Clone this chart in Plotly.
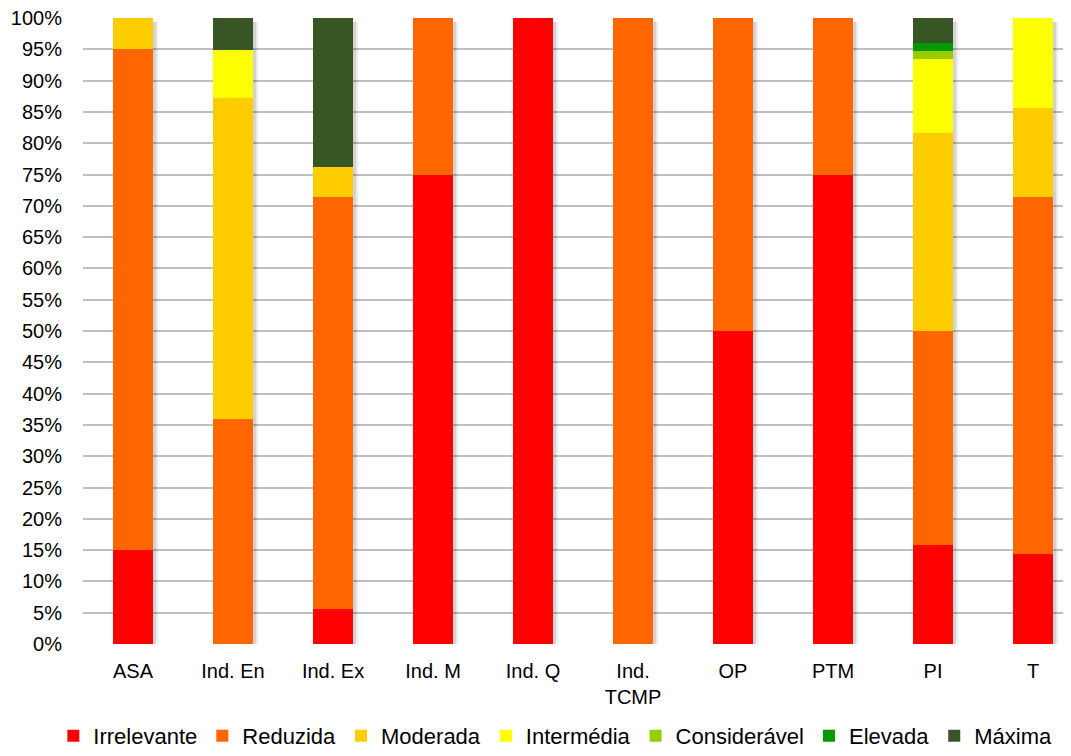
import plotly.graph_objects as go

categories = ["ASA", "Ind. En", "Ind. Ex", "Ind. M", "Ind. Q", "Ind.<br>TCMP", "OP", "PTM", "PI", "T"]
series_names = ["Irrelevante", "Reduzida", "Moderada", "Intermédia", "Considerável", "Elevada", "Máxima"]
irrelevante = [0.15, 0.0, 0.056, 0.75, 1.0, 0.0, 0.5, 0.75, 0.158, 0.143]
reduzida = [0.80, 0.359, 0.658, 0.25, 0.0, 1.0, 0.5, 0.25, 0.342, 0.571]
moderada = [0.05, 0.513, 0.048, 0.0, 0.0, 0.0, 0.0, 0.0, 0.316, 0.143]
intermedia = [0.0, 0.077, 0.0, 0.0, 0.0, 0.0, 0.0, 0.0, 0.118, 0.143]
consideravel = [0.0, 0.0, 0.0, 0.0, 0.0, 0.0, 0.0, 0.0, 0.013, 0.0]
elevada = [0.0, 0.0, 0.0, 0.0, 0.0, 0.0, 0.0, 0.0, 0.013, 0.0]
maxima = [0.0, 0.051, 0.238, 0.0, 0.0, 0.0, 0.0, 0.0, 0.040, 0.0]
colors = ["#FF0000", "#FF6600", "#FFCC00", "#FFFF00", "#99CC00", "#009900", "#375623"]
y_ticks = [i / 20 for i in range(21)]
y_tick_labels = [f"{i*5}%" for i in range(21)]

all_series = [irrelevante, reduzida, moderada, intermedia, consideravel, elevada, maxima]
totals = [sum(v) for v in zip(*all_series)]

fig = go.Figure()
# soft drop shadow behind each column
for off, alpha in [(-0.17, 0.10), (-0.155, 0.08)]:
    fig.add_trace(go.Bar(x=categories, y=totals, base=-0.006, width=0.4, offset=off,
                         marker=dict(color=f"rgba(0,0,0,{alpha})", line=dict(width=0)),
                         showlegend=False, hoverinfo="skip", xaxis="x", yaxis="y"))

for name, vals, col in zip(series_names, all_series, colors):
    fig.add_trace(go.Bar(x=categories, y=vals, name=name, marker=dict(color=col, line=dict(width=0)),
                         width=0.4, xaxis="x2", yaxis="y"))

fig.update_layout(
    barmode="stack",
    width=1071, height=756,
    margin=dict(l=75, r=8, t=10, b=119),
    plot_bgcolor="white", paper_bgcolor="white",
    font=dict(family="Liberation Sans, Arial, sans-serif", size=20, color="#000000"),
    xaxis=dict(range=[-0.5, 9.38], showgrid=False, showline=False, ticks="", automargin=False,
               ticklabelstandoff=13, tickfont=dict(size=20)),
    xaxis2=dict(range=[-0.5, 9.38], overlaying="x", matches="x", showgrid=False, showline=False,
                showticklabels=False, ticks="", automargin=False),
    yaxis=dict(range=[0, 1], tickvals=y_ticks, ticktext=y_tick_labels, showgrid=True, automargin=False,
               gridcolor="#BFBFBF", gridwidth=1.5, zeroline=False, showline=False, ticks="",
               ticklabelstandoff=20, tickfont=dict(size=20), ticklabeloverflow="allow"),
    legend=dict(orientation="h", x=-0.03, xanchor="left", y=-0.145, yanchor="middle",
                traceorder="normal",
                font=dict(family="Liberation Sans, Arial", size=22),
                itemwidth=30, tracegroupgap=0),
    bargap=0.6,
)
fig.write_html("out.html")
